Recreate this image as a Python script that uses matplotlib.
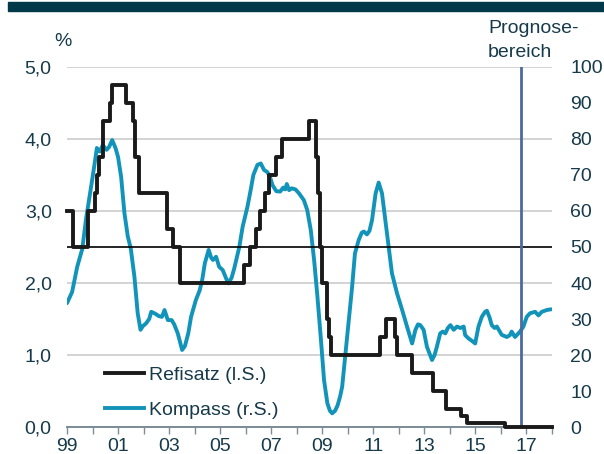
import matplotlib
matplotlib.use('Agg')
import matplotlib.pyplot as plt
from matplotlib.lines import Line2D
from matplotlib.patches import Rectangle

plt.rcParams['font.family'] = ['Liberation Sans', 'DejaVu Sans']

# EZB-Hauptrefinanzierungssatz (l.S.), Zeitpunkte der Zinsänderungen
refi_years = [1999.0, 1999.25, 1999.83, 2000.08, 2000.17, 2000.25, 2000.42,
              2000.67, 2000.75, 2001.33, 2001.58, 2001.67, 2001.83, 2002.92,
              2003.17, 2003.42, 2005.92, 2006.17, 2006.42, 2006.58, 2006.75,
              2006.92, 2007.17, 2007.42, 2008.5, 2008.75, 2008.83, 2008.92,
              2009.0, 2009.17, 2009.25, 2009.33, 2011.25, 2011.5, 2011.83,
              2011.92, 2012.5, 2013.33, 2013.83, 2014.42, 2014.67, 2016.17,
              2018.0]
refi_rates = [3.0, 2.5, 3.0, 3.25, 3.5, 3.75, 4.25,
              4.5, 4.75, 4.5, 4.25, 3.75, 3.25, 2.75,
              2.5, 2.0, 2.25, 2.5, 2.75, 3.0, 3.25,
              3.5, 3.75, 4.0, 4.25, 3.75, 3.25, 2.5,
              2.0, 1.5, 1.25, 1.0, 1.25, 1.5, 1.25,
              1.0, 0.75, 0.5, 0.25, 0.15, 0.05, 0.0,
              0.0]

# Kompass (r.S.)
kompass_years = [1999.0, 1999.2, 1999.4, 1999.6, 1999.75, 1999.95, 2000.1, 2000.17,
                 2000.28, 2000.4, 2000.55, 2000.65, 2000.77, 2000.9, 2001.0, 2001.12,
                 2001.25, 2001.38, 2001.5, 2001.64, 2001.77, 2001.88, 2001.97, 2002.1,
                 2002.22, 2002.3, 2002.45, 2002.6, 2002.72, 2002.82, 2002.95, 2003.1,
                 2003.2, 2003.34, 2003.51, 2003.62, 2003.75, 2003.86, 2004.05, 2004.2,
                 2004.3, 2004.4, 2004.55, 2004.65, 2004.72, 2004.84, 2004.96, 2005.1,
                 2005.25, 2005.33, 2005.45, 2005.55, 2005.65, 2005.75, 2005.88, 2006.07,
                 2006.2, 2006.3, 2006.46, 2006.59, 2006.72, 2006.85, 2006.95, 2007.05,
                 2007.2, 2007.35, 2007.47, 2007.55, 2007.61, 2007.7, 2007.8, 2007.95,
                 2008.09, 2008.28, 2008.41, 2008.55, 2008.68, 2008.8, 2008.94, 2009.07,
                 2009.2, 2009.3, 2009.39, 2009.5, 2009.6, 2009.7, 2009.78, 2009.91,
                 2010.04, 2010.17, 2010.28, 2010.43, 2010.55, 2010.63, 2010.75, 2010.85,
                 2010.95, 2011.09, 2011.21, 2011.34, 2011.47, 2011.6, 2011.73, 2011.93,
                 2012.13, 2012.32, 2012.52, 2012.65, 2012.75, 2012.84, 2012.97, 2013.1,
                 2013.3, 2013.4, 2013.49, 2013.62, 2013.72, 2013.82, 2013.92, 2014.02,
                 2014.15, 2014.28, 2014.41, 2014.54, 2014.6, 2014.73, 2014.85, 2014.99,
                 2015.12, 2015.25, 2015.38, 2015.45, 2015.55, 2015.64, 2015.75, 2015.84,
                 2016.03, 2016.23, 2016.35, 2016.42, 2016.55, 2016.75, 2016.88, 2017.01,
                 2017.14, 2017.34, 2017.47, 2017.6, 2017.8, 2017.97]
kompass_values = [34.4, 37.5, 44.5, 49.5, 58, 67, 74, 77.5,
                  76.5, 78.3, 77, 77.8, 79.7, 77.5, 75, 69.5,
                  59.4, 53, 49.5, 41.8, 31.6, 27, 28, 28.8,
                  30, 32, 31.5, 30.8, 30.6, 32.5, 29.7, 29.7,
                  28.5, 26, 21.4, 22.5, 26, 30.6, 35.3, 38,
                  41, 45.5, 49.2, 47, 46.4, 47.3, 44.5, 43.6,
                  41, 39.9, 41.5, 44, 47, 50, 55.6, 61.2,
                  66, 70, 72.8, 73.2, 71.4, 70.8, 69.5, 67.2,
                  65.5, 65.4, 66.5, 66, 67.5, 65.8, 66.3, 66,
                  64.9, 63, 60.3, 54.7, 46.4, 37.1, 25, 13,
                  6.6, 4.5, 3.8, 4.5, 6, 8.5, 11.2, 20.5,
                  29.7, 39, 48.2, 52, 54, 54.3, 53.5, 54.5,
                  57.5, 64.9, 67.9, 64.9, 57.5, 50, 42.7, 37.1,
                  32.5, 27.9, 23.2, 27, 28.5, 28.3, 27, 22.3,
                  18.6, 20, 22.3, 26, 26.5, 26, 27.5, 28.3,
                  27, 27.9, 27.5, 27.9, 25.5, 24.6, 24, 23.2,
                  27.9, 30.6, 32, 32.3, 30.5, 28.3, 27.5, 27.9,
                  25.6, 25, 25.5, 26.5, 25, 26.5, 27.9, 30.6,
                  31.6, 32, 31, 32, 32.5, 32.7]

year_ticks = list(range(1999, 2019))
year_labels = ['99', '', '01', '', '03', '', '05', '', '07', '', '09', '',
               '11', '', '13', '', '15', '', '17', '']
left_ticks = [0, 1, 2, 3, 4, 5]
right_ticks = [0, 10, 20, 30, 40, 50, 60, 70, 80, 90, 100]
prognose_start = 2016.78

text_col = '#163a4a'
refi_col = '#1a1a1a'
kompass_col = '#1294ba'
fs = 14

fig = plt.figure(figsize=(6.04, 4.54), dpi=100)
ax = fig.add_axes([67 / 604, 27 / 454, 485 / 604, 360 / 454])
ax2 = ax.twinx()

# Kompass on the right axis, behind the Refisatz line
ax2.plot(kompass_years, kompass_values, color=kompass_col, lw=2.8,
         solid_joinstyle='round', solid_capstyle='round')
ax2.set_ylim(0, 100)
ax2.set_yticks(right_ticks)
ax2.tick_params(axis='y', length=0, pad=13, labelsize=fs, labelcolor=text_col)

ax.set_zorder(ax2.get_zorder() + 1)
ax.patch.set_visible(False)

for v in left_ticks[1:]:
    ax2.axhline(v * 20, color='#cccccc', lw=1.2, zorder=0)
ax.axhline(2.5, color='black', lw=1.2, zorder=1)
ax.axvline(prognose_start, color='#4a6aa0', lw=2, zorder=2)
ax.step(refi_years, refi_rates, where='post', color=refi_col, lw=2.8,
        solid_joinstyle='round', zorder=3, clip_on=False)

ax.set_xlim(1999, 2018)
ax.set_ylim(0, 5)
ax.set_yticks(left_ticks)
ax.set_yticklabels([('%.1f' % v).replace('.', ',') for v in left_ticks])
ax.tick_params(axis='y', length=0, pad=11, labelsize=fs, labelcolor=text_col)
ax.set_xticks(year_ticks)
ax.set_xticklabels(year_labels)
ax.tick_params(axis='x', length=5, width=1, color='#7d8e99', pad=3,
               labelsize=fs, labelcolor=text_col)

for a in (ax, ax2):
    for s in ('top', 'left', 'right'):
        a.spines[s].set_visible(False)
    a.spines['bottom'].set_color('#7d8e99')
    a.spines['bottom'].set_linewidth(1.3)

handles = [Line2D([], [], color=refi_col, lw=2.8),
           Line2D([], [], color=kompass_col, lw=2.8)]
ax.legend(handles, ['Refisatz (l.S.)', 'Kompass (r.S.)'], loc='upper left',
          bbox_to_anchor=(0.078, 0.168), frameon=False, fontsize=fs,
          handlelength=2.0, handletextpad=0.25, labelspacing=0.9,
          borderpad=0, borderaxespad=0, labelcolor=text_col)

# header bar and annotations
fig.patches.append(Rectangle((8 / 604, 1 - 11 / 454), 1, 9 / 454,
                             transform=fig.transFigure, color='#003a4a',
                             zorder=0))
fig.text(63 / 604, 1 - 42 / 454, '%', ha='center', va='center', fontsize=fs,
         color=text_col)
fig.text(488 / 604, 1 - 33 / 454, 'Prognose-', ha='left', va='baseline',
         fontsize=fs, color=text_col)
fig.text(488 / 604, 1 - 57 / 454, 'bereich', ha='left', va='baseline',
         fontsize=fs, color=text_col)

fig.savefig('out.png', dpi=100)
